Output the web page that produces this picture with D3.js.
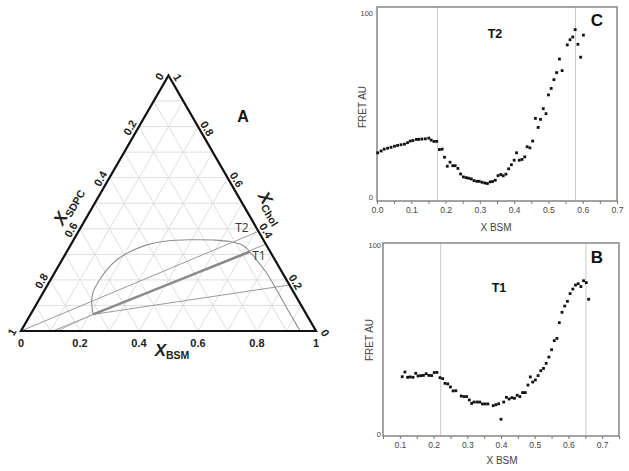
<!DOCTYPE html>
<html><head><meta charset="utf-8">
<script src="https://cdn.jsdelivr.net/npm/d3@7"></script>
<style>body{margin:0;background:#fff} svg{display:block}</style>
</head><body>
<svg id="chart" width="629" height="471"></svg>
<script>
// ---------- DATA ----------
// Ternary diagram (BSM, Chol); SDPC = 1 - BSM - Chol
const ternaryTickValues = [0, 0.2, 0.4, 0.6, 0.8, 1];
const ternaryTickLabels = ["0", "0.2", "0.4", "0.6", "0.8", "1"];
const gridValues = [0.1, 0.2, 0.3, 0.4, 0.5, 0.6, 0.7, 0.8, 0.9];
const boundaryBSM  = [0.212,0.182,0.168,0.166,0.171,0.185,0.214,0.258,0.318,0.394,0.474,0.533,0.587,0.621,0.668,0.720,0.787,0.857,0.923,0.946];
const boundaryChol = [0.065,0.115,0.154,0.193,0.239,0.278,0.310,0.337,0.352,0.357,0.356,0.350,0.334,0.310,0.271,0.226,0.160,0.089,0.023,0.000];
const tieT2BSM = [0.000, 0.610], tieT2Chol = [0.000, 0.390];
const tieT1BSM = [0.108, 0.660], tieT1Chol = [0.000, 0.340];
const tieT1ThickBSM = [0.212, 0.621], tieT1ThickChol = [0.065, 0.310];
const tieT1bBSM = [0.122, 0.212], tieT1bChol = [0.000, 0.065];
const tie3BSM = [0.212, 0.820], tie3Chol = [0.065, 0.180];

// Panel C (T2)
const cX = [0.002,0.012,0.021,0.031,0.041,0.051,0.060,0.070,0.080,0.089,0.097,0.105,0.115,0.122,0.131,0.141,0.151,0.158,0.166,0.174,0.182,0.190,0.197,0.205,0.213,0.221,0.228,0.236,0.244,0.252,0.260,0.267,0.275,0.283,0.291,0.298,0.306,0.314,0.322,0.330,0.337,0.345,0.353,0.361,0.368,0.376,0.384,0.392,0.400,0.407,0.415,0.423,0.431,0.438,0.446,0.454,0.462,0.470,0.477,0.485,0.493,0.500,0.508,0.516,0.524,0.532,0.540,0.555,0.563,0.571,0.578,0.586,0.594,0.602];
const cY = [24,25,26,26.5,27,27.6,28,28.4,28.7,29.5,30.4,30.7,31.3,31.3,31.5,31.6,32,30.9,30.2,30.2,25.8,26,21.6,16.7,18.9,17,17,15.5,12.5,10.9,10.5,10.2,9.8,8.9,8.5,8.5,8,7.6,7.3,8.2,8.4,9.1,11.6,12.2,11.5,12.4,15.3,17.5,20,24,20,20.4,21.8,27.3,26.7,30.4,42.7,37.8,42.2,48,45.3,55.5,59,63.8,67.6,75,68.7,82.7,85.5,87,91,83,76,88];
const cVLines = [0.176, 0.579];
const cXTicks = [0,0.05,0.1,0.15,0.2,0.25,0.3,0.35,0.4,0.45,0.5,0.55,0.6,0.65,0.7];

// Panel B (T1)
const bX = [0.107,0.115,0.123,0.131,0.139,0.147,0.154,0.162,0.170,0.178,0.186,0.194,0.202,0.210,0.219,0.227,0.234,0.242,0.250,0.258,0.266,0.282,0.290,0.298,0.306,0.313,0.320,0.329,0.337,0.345,0.353,0.361,0.377,0.385,0.393,0.400,0.408,0.416,0.424,0.432,0.440,0.448,0.456,0.464,0.472,0.480,0.487,0.494,0.502,0.510,0.518,0.526,0.534,0.542,0.550,0.558,0.566,0.573,0.581,0.589,0.597,0.605,0.613,0.621,0.629,0.637,0.645,0.653,0.660];
const bY = [30.3,32.8,30,30.2,30,32.1,30.7,30.9,31,31.9,31,30.9,32.5,32.6,29.8,29.3,26.8,26.5,24.9,22.8,22.9,20.1,19.8,19.8,18,16.2,16.9,16.9,16.9,15.9,15.9,15.9,15,15.5,16,7.8,16.9,19.4,18.5,19.2,18.9,20.5,19.8,21.9,21.9,25.9,30.2,27.5,28.6,30.9,33.5,34.7,37.4,40.7,44.6,49.4,50.6,58.9,64.4,67.7,70.2,74.3,76.7,78.8,79.5,78,81.1,80.1,71.3];
const bVLines = [0.221, 0.652];
const bXTicks = [0.05,0.1,0.15,0.2,0.25,0.3,0.35,0.4,0.45,0.5,0.55,0.6,0.65,0.7,0.75];
const yTickValues = [0, 100];

// ---------- DRAWING ----------
const svg = d3.select("#chart");
svg.append("rect").attr("width", 629).attr("height", 471).attr("fill", "#fff");

// Ternary
const tx = d3.scaleLinear().domain([0, 1]).range([21, 316]);
const ty = d3.scaleLinear().domain([0, 1]).range([331, 75.5]);
const P = (b, c) => [tx(b + c / 2), ty(c)];
const tern = svg.append("g");

// grid
const gridSegs = [];
gridValues.forEach(v => {
  gridSegs.push([P(0, v), P(1 - v, v)]);          // const Chol
  gridSegs.push([P(v, 0), P(v, 1 - v)]);          // const BSM
  gridSegs.push([P(0, 1 - v), P(1 - v, 0)]);      // const SDPC
});
tern.selectAll("line.grid").data(gridSegs).join("line")
  .attr("x1", d => d[0][0]).attr("y1", d => d[0][1])
  .attr("x2", d => d[1][0]).attr("y2", d => d[1][1])
  .attr("stroke", "#dadada").attr("stroke-width", 0.9);

const lineGen = d3.line();
function drawLine(bs, cs, color, width) {
  tern.append("path").attr("d", lineGen(bs.map((b, i) => P(b, cs[i]))))
    .attr("fill", "none").attr("stroke", color).attr("stroke-width", width);
}
// boundary curve
tern.append("path")
  .attr("d", d3.line().curve(d3.curveCatmullRom.alpha(0.5))(boundaryBSM.map((b, i) => P(b, boundaryChol[i]))))
  .attr("fill", "none").attr("stroke", "#8e8e8e").attr("stroke-width", 1.1);
drawLine(tieT2BSM, tieT2Chol, "#9a9a9a", 1);
drawLine(tieT1BSM, tieT1Chol, "#9a9a9a", 1);
drawLine(tieT1bBSM, tieT1bChol, "#b0b0b0", 0.9);
drawLine(tie3BSM, tie3Chol, "#9a9a9a", 1);
drawLine(tieT1ThickBSM, tieT1ThickChol, "#8a8a8a", 2.4);

// triangle outline
tern.append("path").attr("d", lineGen([P(0, 0), P(1, 0), P(0, 1)]) + "Z")
  .attr("fill", "none").attr("stroke", "#111").attr("stroke-width", 2.2).attr("stroke-linejoin", "miter");

const tickFont = "'Liberation Sans', Arial, sans-serif";
// bottom labels (BSM)
ternaryTickValues.forEach((v, i) => {
  const p = P(v, 0);
  tern.append("text").attr("x", p[0]).attr("y", 347).attr("text-anchor", "middle")
    .attr("font-family", tickFont).attr("font-weight", "bold").attr("font-size", 11).attr("fill", "#222")
    .text(ternaryTickLabels[i]);
});
// left labels (SDPC): SDPC=v on left side -> BSM=0, Chol=1-v
ternaryTickValues.forEach((v, i) => {
  const p = P(0, 1 - v);
  const x = p[0] - 9, y = p[1] + 1;
  tern.append("text").attr("transform", `translate(${x},${y}) rotate(-60)`)
    .attr("text-anchor", "middle").attr("dy", "0.35em")
    .attr("font-family", tickFont).attr("font-weight", "bold").attr("font-size", 11).attr("fill", "#222")
    .text(ternaryTickLabels[i]);
});
// right labels (Chol): Chol=v on right side -> BSM=1-v
ternaryTickValues.forEach((v, i) => {
  const p = P(1 - v, v);
  const x = p[0] + 9, y = p[1] + 2;
  tern.append("text").attr("transform", `translate(${x},${y}) rotate(60)`)
    .attr("text-anchor", "middle").attr("dy", "0.35em")
    .attr("font-family", tickFont).attr("font-weight", "bold").attr("font-size", 11).attr("fill", "#222")
    .text(ternaryTickLabels[i]);
});
// axis titles
function axisTitle(x, y, rot, sub) {
  const t = tern.append("text").attr("transform", `translate(${x},${y}) rotate(${rot})`)
    .attr("text-anchor", "middle").attr("dy", "0.35em")
    .attr("font-family", tickFont).attr("fill", "#222");
  t.append("tspan").attr("font-size", 17).attr("font-weight", "bold").attr("font-style", "italic").text("X");
  t.append("tspan").attr("font-size", 10.5).attr("font-weight", "bold").attr("dy", 3).text(sub);
}
axisTitle(68, 206, -60, "SDPC");
axisTitle(271, 208, 60, "Chol");
axisTitle(172, 350, 0, "BSM");

tern.append("text").attr("x", 243).attr("y", 122).attr("text-anchor", "middle")
  .attr("font-family", tickFont).attr("font-weight", "bold").attr("font-size", 16).attr("fill", "#111").text("A");
tern.append("text").attr("x", 242).attr("y", 232).attr("text-anchor", "middle")
  .attr("font-family", "'Open Sans', sans-serif").attr("font-size", 12).attr("fill", "#333").text("T2");
tern.append("text").attr("x", 259).attr("y", 260).attr("text-anchor", "middle")
  .attr("font-family", "'Open Sans', sans-serif").attr("font-size", 12).attr("fill", "#333").text("T1");

// ---------- Scatter panels ----------
function panel(cfg) {
  const g = svg.append("g");
  const x = d3.scaleLinear().domain(cfg.xDomain).range([cfg.left, cfg.right]);
  const y = d3.scaleLinear().domain(cfg.yDomain).range([cfg.bottom, cfg.top]);
  g.selectAll("line.v").data(cfg.vLines).join("line")
    .attr("x1", d => x(d)).attr("x2", d => x(d)).attr("y1", cfg.top).attr("y2", cfg.bottom)
    .attr("stroke", "#c4c4c4").attr("stroke-width", 0.9);
  g.append("rect").attr("x", cfg.left).attr("y", cfg.top)
    .attr("width", cfg.right - cfg.left).attr("height", cfg.bottom - cfg.top)
    .attr("fill", "none").attr("stroke", "#858585").attr("stroke-width", 1.5);
  const xa = g.append("g").attr("transform", `translate(0,${cfg.bottom})`)
    .call(d3.axisBottom(x).tickValues(cfg.xTicks).tickSize(3).tickPadding(3)
      .tickFormat(d => (Math.abs(Math.round(d * 10) - d * 10) < 1e-6) ? d3.format(".1f")(d) : ""));
  xa.select(".domain").remove();
  xa.selectAll("line").attr("stroke", "#777");
  xa.selectAll("text").attr("font-family", tickFont).attr("font-size", 8.5).attr("fill", "#444");
  const ya = g.append("g").attr("transform", `translate(${cfg.left},0)`)
    .call(d3.axisLeft(y).tickValues(yTickValues).tickSize(0).tickPadding(cfg.yPad).tickFormat(d3.format("d")));
  ya.select(".domain").remove();
  ya.selectAll("text").attr("font-family", tickFont).attr("font-size", 7.5).attr("fill", "#444");
  g.selectAll("rect.pt").data(cfg.xs.map((v, i) => [v, cfg.ys[i]])).join("rect")
    .attr("x", d => x(d[0]) - 1.4).attr("y", d => y(d[1]) - 1.4)
    .attr("width", 2.8).attr("height", 2.8).attr("fill", "#111");
  g.append("text").attr("x", cfg.xTitle[0]).attr("y", cfg.xTitle[1]).attr("text-anchor", "middle")
    .attr("font-family", tickFont).attr("font-size", 10).attr("fill", "#444").text("X BSM");
  g.append("text").attr("transform", `translate(${cfg.yTitle[0]},${cfg.yTitle[1]}) rotate(-90)`)
    .attr("text-anchor", "middle").attr("font-family", tickFont).attr("font-size", 10).attr("fill", "#444").text("FRET AU");
  g.append("text").attr("x", cfg.tag[0]).attr("y", cfg.tag[1]).attr("text-anchor", "middle")
    .attr("font-family", tickFont).attr("font-weight", "bold").attr("font-size", 12.5).attr("fill", "#111").text(cfg.tagText);
  g.append("text").attr("x", cfg.letter[0]).attr("y", cfg.letter[1]).attr("text-anchor", "middle")
    .attr("font-family", tickFont).attr("font-weight", "bold").attr("font-size", 17).attr("fill", "#111").text(cfg.letterText);
}

panel({
  left: 377, right: 617, top: 7, bottom: 201,
  xDomain: [0, 0.7], yDomain: [-2.2, 103.3],
  xs: cX, ys: cY, vLines: cVLines, xTicks: cXTicks, yPad: 4,
  xTitle: [496, 231], yTitle: [366, 107],
  tag: [495, 38], tagText: "T2", letter: [597, 26], letterText: "C"
});
panel({
  left: 383, right: 619, top: 243, bottom: 436,
  xDomain: [0.05, 0.75], yDomain: [-1.06, 101.06],
  xs: bX, ys: bY, vLines: bVLines, xTicks: bXTicks, yPad: 2,
  xTitle: [502, 464], yTitle: [373, 340],
  tag: [499, 292], tagText: "T1", letter: [597, 263], letterText: "B"
});
</script>
</body></html>
